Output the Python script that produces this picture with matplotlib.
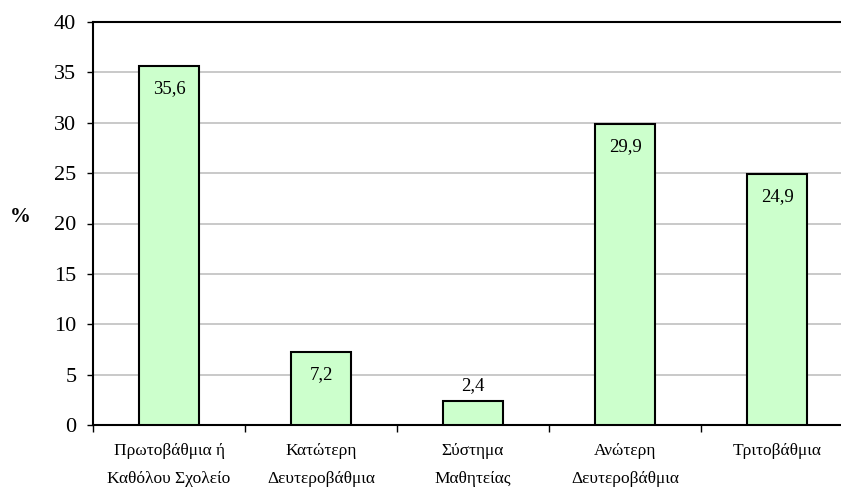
import matplotlib
matplotlib.use("Agg")
import matplotlib.pyplot as plt
import numpy as np

categories = ["Πρωτοβάθμια ή\nΚαθόλου Σχολείο", "Κατώτερη\nΔευτεροβάθμια",
              "Σύστημα\nΜαθητείας", "Ανώτερη\nΔευτεροβάθμια", "Τριτοβάθμια"]
values = [35.6, 7.2, 2.4, 29.9, 24.9]
value_labels = ["35,6", "7,2", "2,4", "29,9", "24,9"]
yticks = [0, 5, 10, 15, 20, 25, 30, 35, 40]

plt.rcParams['font.family'] = ['Liberation Serif', 'DejaVu Serif']

W, H = 841, 488
fig = plt.figure(figsize=(W / 100, H / 100), dpi=100)
left, right, top, bottom = 93, 853, 22, 425
ax = fig.add_axes([left / W, (H - bottom) / H, (right - left) / W, (bottom - top) / H])

x = np.arange(len(categories))
bars = ax.bar(x, values, width=0.4, color="#CCFFCC", edgecolor="black", linewidth=1.5, zorder=3)

ax.set_xlim(-0.5, len(categories) - 0.5)
ax.set_ylim(0, 40)
ax.set_yticks(yticks)
ax.set_yticklabels([str(v) for v in yticks], fontsize=16)
ax.yaxis.grid(True, color="#C0C0C0", linewidth=1.2, zorder=0)
ax.set_axisbelow(True)

ax.set_xticks(x)
ax.set_xticklabels(categories, fontsize=12.5, linespacing=2.0)
ax.set_xticks(np.arange(len(categories) + 1) - 0.5, minor=True)
ax.tick_params(axis='x', which='major', length=0, pad=13)
ax.tick_params(axis='x', which='minor', length=5, width=1, direction='out')
ax.tick_params(axis='y', length=4, width=1, pad=8, direction='out')

for s in ['left', 'bottom', 'top']:
    ax.spines[s].set_color('black')
    ax.spines[s].set_linewidth(1.5)
ax.spines['right'].set_visible(False)

for xi, v, lab in zip(x, values, value_labels):
    if v > 5:
        ax.annotate(lab, (xi, v), xytext=(0, -10), textcoords='offset points',
                    ha='center', va='top', fontsize=13.5, zorder=4)
    else:
        ax.annotate(lab, (xi, v), xytext=(0, 5), textcoords='offset points',
                    ha='center', va='bottom', fontsize=13.5, zorder=4)

fig.text(20 / W, 1 - 217 / H, "%", fontsize=15, fontweight='bold', ha='center', va='center')

fig.savefig("out.png", dpi=100)
